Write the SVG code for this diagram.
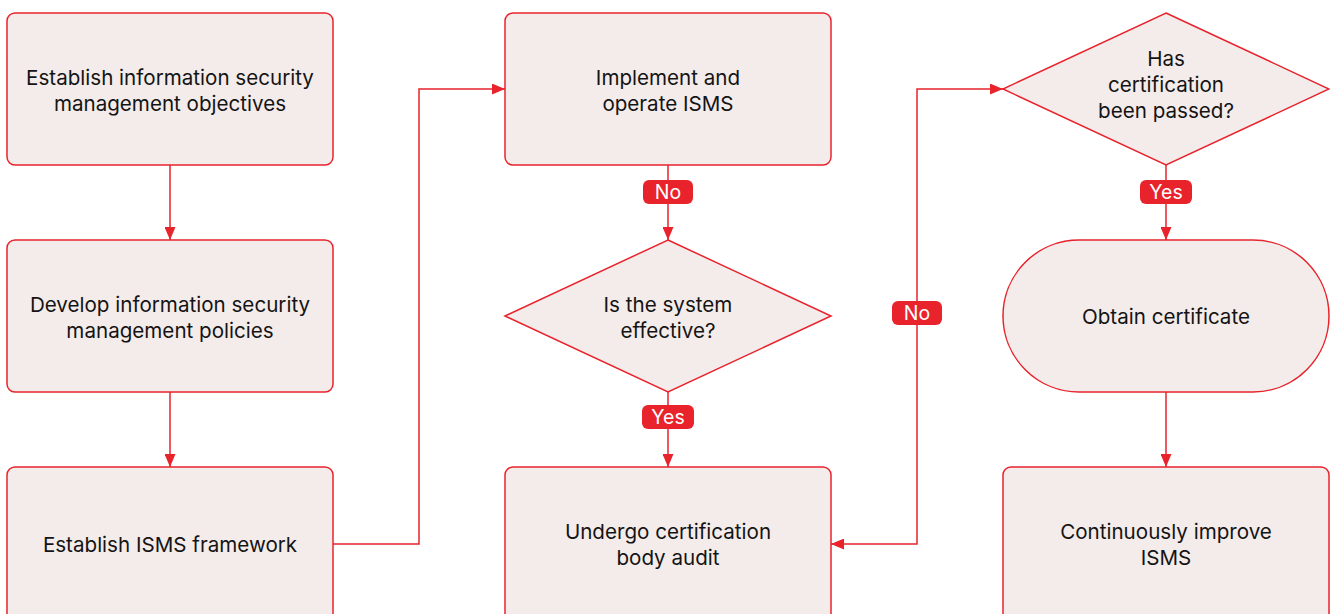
<svg xmlns="http://www.w3.org/2000/svg" width="1330" height="614" viewBox="0 0 1330 614">
<style>
.n{fill:#f4eceb;stroke:#e8232c;stroke-width:1.5}
.t{font-family:Inter,"Noto Sans",sans-serif;font-size:20.6px;fill:#141414;text-anchor:middle;dominant-baseline:central}
.c{fill:none;stroke:#e8232c;stroke-width:1.5}
.p{fill:#e8232c}
.l{font-family:Inter,"Noto Sans",sans-serif;font-size:19.5px;fill:#ffffff;text-anchor:middle;dominant-baseline:central}
</style>
<defs>
<marker id="a" viewBox="0 0 13 11" refX="13" refY="5.5" markerWidth="13" markerHeight="11" markerUnits="userSpaceOnUse" orient="auto">
<path d="M0,0 L13,5.5 L0,11 Z" fill="#e8232c"/>
</marker>
</defs>
<rect width="1330" height="614" fill="#ffffff"/>
<g id="connectors">
<path class="c" d="M170,165 V240" marker-end="url(#a)"/>
<path class="c" d="M170,392 V467" marker-end="url(#a)"/>
<path class="c" d="M333,544 H419 V89 H505" marker-end="url(#a)"/>
<path class="c" d="M668,165 V240" marker-end="url(#a)"/>
<path class="c" d="M668,392 V467" marker-end="url(#a)"/>
<path class="c" d="M917,313 V89 H1003" marker-end="url(#a)"/>
<path class="c" d="M917,313 V544 H831" marker-end="url(#a)"/>
<path class="c" d="M1166,165 V240" marker-end="url(#a)"/>
<path class="c" d="M1166,392 V467" marker-end="url(#a)"/>
<rect class="p" x="643" y="180" width="50" height="24" rx="6"/>
<text class="l" x="668" y="192">No</text>
<rect class="p" x="642" y="405" width="52" height="24" rx="6"/>
<text class="l" x="668" y="417">Yes</text>
<rect class="p" x="892" y="301" width="50" height="24" rx="6"/>
<text class="l" x="917" y="313">No</text>
<rect class="p" x="1140" y="180" width="52" height="24" rx="6"/>
<text class="l" x="1166" y="192">Yes</text>
</g>
<g id="n1">
<rect class="n" x="7" y="13" width="326" height="152" rx="8"/>
<text class="t" x="170" y="77">Establish information security</text>
<text class="t" x="170" y="103">management objectives</text>
</g>
<g id="n2">
<rect class="n" x="7" y="240" width="326" height="152" rx="8"/>
<text class="t" x="170" y="304">Develop information security</text>
<text class="t" x="170" y="330">management policies</text>
</g>
<g id="n3">
<rect class="n" x="7" y="467" width="326" height="160" rx="8"/>
<text class="t" x="170" y="544">Establish ISMS framework</text>
</g>
<g id="n4">
<rect class="n" x="505" y="13" width="326" height="152" rx="8"/>
<text class="t" x="668" y="77">Implement and</text>
<text class="t" x="668" y="103">operate ISMS</text>
</g>
<g id="n5">
<polygon class="n" points="668,240 831,316 668,392 505,316"/>
<text class="t" x="668" y="304">Is the system</text>
<text class="t" x="668" y="330">effective?</text>
</g>
<g id="n6">
<rect class="n" x="505" y="467" width="326" height="160" rx="8"/>
<text class="t" x="668" y="531">Undergo certification</text>
<text class="t" x="668" y="557">body audit</text>
</g>
<g id="n7">
<polygon class="n" points="1166,13 1329,89 1166,165 1003,89"/>
<text class="t" x="1166" y="58">Has</text>
<text class="t" x="1166" y="84">certification</text>
<text class="t" x="1166" y="110">been passed?</text>
</g>
<g id="n8">
<rect class="n" x="1003" y="240" width="326" height="152" rx="76"/>
<text class="t" x="1166" y="316">Obtain certificate</text>
</g>
<g id="n9">
<rect class="n" x="1003" y="467" width="326" height="160" rx="8"/>
<text class="t" x="1166" y="531">Continuously improve</text>
<text class="t" x="1166" y="557">ISMS</text>
</g>
</svg>
